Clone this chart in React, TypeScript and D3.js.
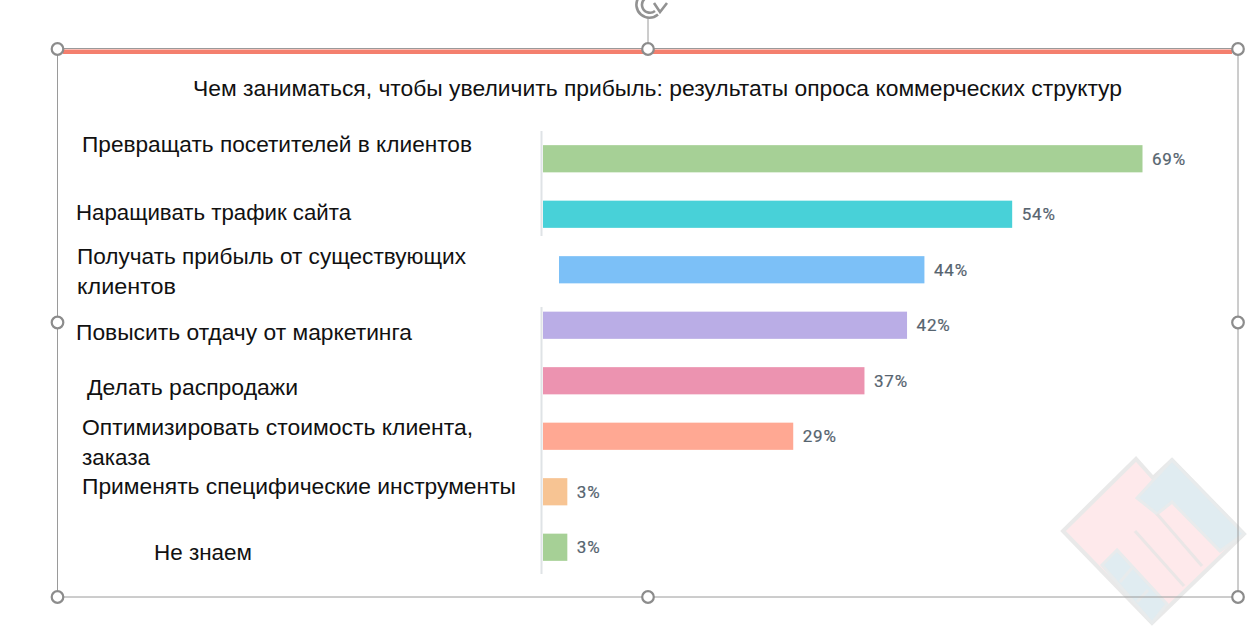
import React from "react";
import * as d3 from "d3";

const titleText = "Чем заниматься, чтобы увеличить прибыль: результаты опроса коммерческих структур";
const categories = ["a", "b", "c", "d", "e", "f", "g", "h"];
const valueLabels = [69, 54, 44, 42, 37, 29, 3, 3];
const barLengths = [69, 54, 43.9, 41.9, 37, 28.8, 2.8, 2.8];
const barColors = ["#a6d096", "#48d1d8", "#7cc0f7", "#baade6", "#ec93b0", "#ffa893", "#f7c493", "#a6d096"];
const barStartOffsets = [0, 0, 16, 0, 0, 0, 0, 0];
const labelLines = [
  ["Превращать посетителей в клиентов"],
  ["Наращивать трафик сайта"],
  ["Получать прибыль от существующих", "клиентов"],
  ["Повысить отдачу от маркетинга"],
  ["Делать распродажи"],
  ["Оптимизировать стоимость клиента,", "заказа"],
  ["Применять специфические инструменты"],
  ["Не знаем"],
];
// [x, baseline y, drawn width] for each label line
const labelLayout = [
  [[82, 152, 390]],
  [[76, 220, 275]],
  [[77, 264, 389], [77, 294, 99]],
  [[76, 340, 336]],
  [[87, 395, 211]],
  [[82, 435, 391], [82, 465, 68]],
  [[82, 494, 434]],
  [[154, 560, 98]],
];
const handles = [
  [57.5, 49], [648, 49], [1238, 49],
  [57.5, 322.5], [1238, 322.5],
  [57.5, 597], [648, 597], [1238, 597],
];

const x = d3.scaleLinear().domain([0, 69]).range([543, 1142.5]);
const y = d3.scaleBand<string>().domain(categories).range([131, 575]).paddingInner(0.51).paddingOuter(0.255);
const font = "'Liberation Sans', Arial, sans-serif";

export default function App() {
  return (
    <svg width={1257} height={637} style={{ position: "absolute", left: 0, top: 0, background: "#fff" }}>
      {/* watermark */}
      <g strokeLinejoin="miter">
        <polygon points="1136,459 1063,531 1152,623 1244,534 1172,460 1153,478" fill="#fee9eb" stroke="#e9e9e9" strokeWidth={4} />
        <polygon points="1172,460 1137,498 1157,514 1172,502 1220,551 1244,534" fill="#e0ecf1" stroke="#e8ebec" strokeWidth={3} />
        <polygon points="1117,550 1102,565 1152,623 1167,604" fill="#e0ecf1" stroke="#e8ebec" strokeWidth={3} />
        <line x1={1135} y1={531} x2={1184} y2={586} stroke="#eae6e6" strokeWidth={3} />
        <line x1={1157} y1={514} x2={1202} y2={566} stroke="#eae6e6" strokeWidth={3} />
        <line x1={1132} y1={568} x2={1120} y2={582} stroke="#e8ebec" strokeWidth={3} />
        <line x1={1148} y1={590} x2={1137} y2={602} stroke="#e8ebec" strokeWidth={3} />
      </g>

      {/* selection frame */}
      <rect x={57.5} y={48.5} width={1180.5} height={548.5} fill="none" stroke="#9a9a9a" strokeWidth={1} />
      <line x1={63} x2={1232} y1={51.8} y2={51.8} stroke="#f47f6e" strokeWidth={4.4} />
      <line x1={648} x2={648} y1={17} y2={44} stroke="#9a9a9a" strokeWidth={1} />
      <g fill="none" stroke="#929292" strokeWidth={2.6}>
        <path d="M 658 14.5 A 13 13 0 1 1 655 -7" />
        <path d="M 655 11 A 8 8 0 1 1 652 -3" />
        <path d="M 654 3 L 660 12 L 667 3" />
      </g>
      {handles.map(([cx, cy], i) => (
        <circle key={i} cx={cx} cy={cy} r={5.8} fill="#fff" stroke="#8c8c8c" strokeWidth={2.2} />
      ))}

      {/* title */}
      <text x={193} y={96} fontFamily={font} fontSize={22} fill="#111" textLength={929} lengthAdjust="spacingAndGlyphs">
        {titleText}
      </text>

      {/* axis pieces */}
      <line x1={541.5} x2={541.5} y1={131} y2={236} stroke="#dfe3e6" strokeWidth={2} />
      <line x1={541.5} x2={541.5} y1={307} y2={574} stroke="#dfe3e6" strokeWidth={2} />

      {/* bars */}
      {categories.map((c, i) => (
        <rect
          key={c}
          x={x(0) + barStartOffsets[i]}
          y={y(c)}
          width={x(barLengths[i]) - x(0) - barStartOffsets[i]}
          height={y.bandwidth()}
          fill={barColors[i]}
        />
      ))}

      {/* value labels */}
      {categories.map((c, i) => (
        <text
          key={c}
          x={x(barLengths[i]) + 9.5}
          y={(y(c) as number) + y.bandwidth() / 2 + 6}
          fontFamily="Roboto, sans-serif"
          fontSize={17}
          letterSpacing={0.8}
          fontWeight={400}
          fill="#56646f"
          stroke="#56646f"
          strokeWidth={0.2}
        >
          {valueLabels[i]}%
        </text>
      ))}

      {/* category labels */}
      {labelLines.map((lines, i) =>
        lines.map((line, j) => {
          const [lx, ly, lw] = labelLayout[i][j];
          return (
            <text key={`${i}-${j}`} x={lx} y={ly} fontFamily={font} fontSize={22.5} fill="#111" textLength={lw} lengthAdjust="spacingAndGlyphs">
              {line}
            </text>
          );
        })
      )}
    </svg>
  );
}
